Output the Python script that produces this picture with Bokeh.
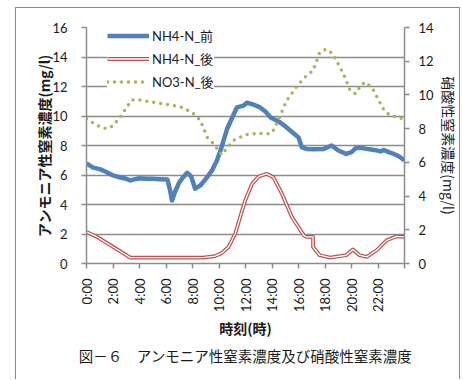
import math
from bokeh.plotting import figure
from bokeh.models import Range1d, LinearAxis, FixedTicker, Legend, LegendItem, Title
from bokeh.embed import file_html
from bokeh.resources import INLINE

# ---- data (hours of day, concentrations mg/l) ----
nh4_before_h = [0, 0.5, 1, 1.5, 2, 2.5, 3, 3.3, 3.6, 4, 4.5, 5, 5.5, 6.1, 6.3, 6.45, 6.7, 7.0, 7.3, 7.6,
                7.9, 8.2, 8.6, 9.1, 9.5, 9.85, 10.2, 10.6, 11.0, 11.35, 11.85, 12.1, 12.5, 13.1, 13.5, 13.9,
                14.6, 15.0, 15.4, 15.8, 16.0, 16.25, 16.6, 17.2, 17.9, 18.5, 19.0, 19.6, 20.0, 20.3, 20.7,
                21.15, 21.7, 22.2, 22.45, 22.8, 23.2, 23.6, 24]
nh4_before_v = [6.78, 6.5, 6.4, 6.2, 5.97, 5.85, 5.75, 5.63, 5.7, 5.78, 5.75, 5.74, 5.72, 5.7, 5.0, 4.28,
                4.9, 5.5, 5.85, 6.15, 5.9, 5.07, 5.3, 5.85, 6.35, 7.0, 7.9, 9.1, 9.9, 10.58, 10.7, 10.9,
                10.8, 10.58, 10.3, 9.9, 9.57, 9.3, 9.0, 8.7, 8.55, 7.88, 7.77, 7.75, 7.77, 8.0, 7.66, 7.43,
                7.55, 7.81, 7.85, 7.77, 7.7, 7.6, 7.7, 7.55, 7.43, 7.25, 6.98]

nh4_after_h = [0, 0.8, 1.8, 2.8, 3.3, 5.0, 7.0, 8.8, 9.7, 10.2, 10.72, 11.23, 11.6, 11.98, 12.5, 13.0,
               13.6, 14.1, 14.75, 15.5, 16.4, 16.6, 17.1, 17.1, 17.6, 18.4, 19.6, 20.1, 20.6, 21.15, 21.9,
               22.65, 23.4, 24]
nh4_after_v = [2.14, 1.8, 1.24, 0.68, 0.4, 0.4, 0.4, 0.4, 0.5, 0.7, 1.12, 2.03, 3.15, 4.28, 5.4, 5.9,
               6.08, 5.85, 4.73, 3.15, 1.91, 1.8, 1.8, 1.12, 0.56, 0.4, 0.56, 0.95, 0.56, 0.45, 0.9,
               1.57, 1.84, 1.8]

no3_after_h = [0, 0.8, 1.5, 2.05, 2.7, 3.4, 3.8, 4.8, 6.1, 7.2, 8.1, 8.6, 9.1, 9.6, 10.2, 10.6, 11.1,
               11.6, 12.1, 12.4, 13.0, 13.9, 14.1, 14.4, 15.1, 15.9, 16.6, 17.1, 17.6, 18.1, 18.6, 19.4,
               19.9, 20.3, 20.78, 21.1, 21.6, 22.4, 22.9, 23.6, 24]
no3_after_v = [8.58, 8.18, 7.99, 8.18, 8.88, 9.7, 9.72, 9.6, 9.43, 9.27, 8.88, 8.48, 7.49, 7.1, 6.45,
               6.85, 7.3, 7.5, 7.65, 7.69, 7.72, 7.69, 7.9, 8.38, 9.66, 10.55, 11.14, 11.44, 12.52, 12.72,
               12.43, 11.24, 10.25, 10.06, 10.65, 10.75, 10.36, 9.17, 8.78, 8.67, 8.54]

x_ticks = [0, 2, 4, 6, 8, 10, 12, 14, 16, 18, 20, 22, 24]
x_tick_labels = ["0:00", "2:00", "4:00", "6:00", "8:00", "10:00", "12:00", "14:00", "16:00",
                 "18:00", "20:00", "22:00", ""]
left_ticks = [0, 2, 4, 6, 8, 10, 12, 14, 16]
right_ticks = [0, 2, 4, 6, 8, 10, 12, 14]

series_names = ["NH4-N_前", "NH4-N_後", "NO3-N_後"]
left_title = "アンモニア性窒素濃度(mg/l)"
right_title = "硝酸性窒素濃度(mg/l)"
x_title = "時刻(時)"
caption = "図－６　アンモニア性窒素濃度及び硝酸性窒素濃度"

BLUE = "#4F81BD"
RED = "#C0504D"
GREEN = "#9BBB59"
GRAY = "#8c8c8c"
NUM_FONT = "Lato, 'Noto Sans CJK JP'"
JP_FONT = "Noto Sans CJK JP"

p = figure(width=445, height=372, output_backend="svg", toolbar_location=None,
           x_range=Range1d(0, 24), y_range=Range1d(0, 16),
           min_border_left=70, min_border_right=56, min_border_top=19, min_border_bottom=117)
p.styles = {"margin-left": "15px", "margin-top": "7px",
            "border-left": "1px solid #8c8c8c", "border-right": "1px solid #8c8c8c",
            "border-top": "1px solid #8c8c8c"}
p.extra_y_ranges = {"right": Range1d(0, 14)}
p.outline_line_color = None
p.background_fill_color = "white"
p.border_fill_color = "white"

rb = p.line(nh4_before_h, nh4_before_v, line_color=BLUE, line_width=4.5, line_join="round")
rr1 = p.line(nh4_after_h, nh4_after_v, line_color=RED, line_width=3.8, line_join="round")
rr2 = p.line(nh4_after_h, nh4_after_v, line_color="white", line_width=1.3, line_join="round")
rg = p.line(no3_after_h, no3_after_v, y_range_name="right", line_color=GREEN, line_width=3.5,
            line_dash="0 7", line_cap="round")

right_axis = LinearAxis(y_range_name="right")
p.add_layout(right_axis, "right")

p.xaxis.ticker = FixedTicker(ticks=x_ticks)
p.xaxis.major_label_overrides = {t: lab for t, lab in zip(x_ticks, x_tick_labels)}
p.xaxis.major_label_orientation = math.pi / 2
p.xaxis.major_label_standoff = 10
p.xaxis.axis_label = x_title
p.xaxis.axis_label_standoff = 3
p.xaxis.axis_label_text_font_style = "bold"

p.yaxis[0].ticker = FixedTicker(ticks=left_ticks)
p.yaxis[0].major_label_standoff = 14
p.yaxis[0].axis_label = left_title
p.yaxis[0].axis_label_standoff = -5
p.yaxis[0].axis_label_text_font_style = "bold"

right_axis.ticker = FixedTicker(ticks=right_ticks)
right_axis.major_label_standoff = 9
right_axis.axis_label = right_title
right_axis.axis_label_standoff = 2
right_axis.axis_label_text_font_style = "normal"

for ax in [p.xaxis[0], p.yaxis[0], right_axis]:
    ax.axis_line_color = GRAY
    ax.axis_line_width = 1.5
    ax.major_tick_line_color = GRAY
    ax.major_tick_line_width = 1.5
    ax.major_tick_out = 5
    ax.major_tick_in = 0
    ax.minor_tick_line_color = None
    ax.major_label_text_font = NUM_FONT
    ax.major_label_text_font_size = "13px"
    ax.major_label_text_color = "#1a1a1a"
    ax.axis_label_text_font = JP_FONT
    ax.axis_label_text_font_size = "14px"
    ax.axis_label_text_color = "#1a1a1a"

p.xgrid.visible = False
p.ygrid.ticker = FixedTicker(ticks=left_ticks)
p.ygrid.grid_line_color = GRAY
p.ygrid.grid_line_width = 1.3

legend = Legend(items=[LegendItem(label=series_names[0], renderers=[rb]),
                       LegendItem(label=series_names[1], renderers=[rr1, rr2]),
                       LegendItem(label=series_names[2], renderers=[rg])],
                location=(21, 172))
legend.border_line_color = None
legend.background_fill_color = "white"
legend.background_fill_alpha = 1
legend.padding = 4
legend.margin = 0
legend.spacing = 4
legend.glyph_width = 42
legend.glyph_height = 19
legend.label_height = 19
legend.label_standoff = 3
legend.label_text_font = NUM_FONT
legend.label_text_font_size = "13px"
legend.label_text_color = "#1a1a1a"
p.add_layout(legend)

cap = Title(text=caption, align="center", text_font=JP_FONT, text_font_size="14.5px",
            text_font_style="normal", text_color="#1a1a1a", standoff=4)
p.add_layout(cap, "below")

open("out.html", "w").write(file_html(p, INLINE))
